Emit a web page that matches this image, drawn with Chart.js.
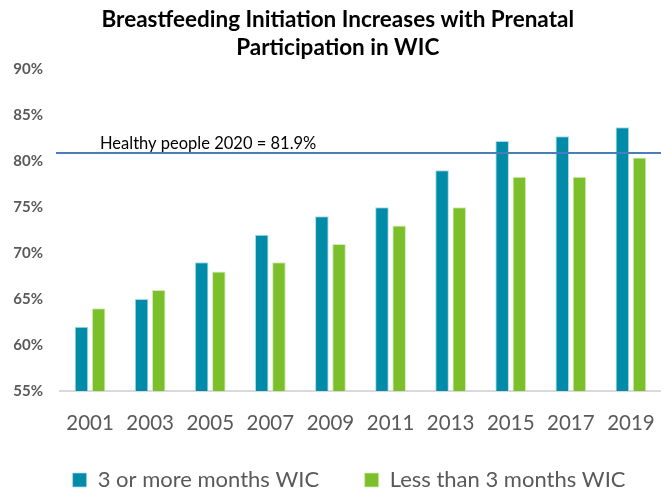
<!DOCTYPE html>
<html>
<head>
<meta charset="utf-8">
<script src="https://cdn.jsdelivr.net/npm/chart.js@4.4.1/dist/chart.umd.min.js"></script>
<style>
  html, body { margin: 0; padding: 0; background: #fff; }
  #wrap { width: 661px; height: 491px; position: relative; }
</style>
</head>
<body>
<div id="wrap"><canvas id="wicChart"></canvas></div>
<script>
// —————— DATA ——————
const years = ['2001', '2003', '2005', '2007', '2009', '2011', '2013', '2015', '2017', '2019'];
const threePlusMonths = [62, 65, 69, 72, 74, 75, 79, 82.2, 82.7, 83.7];
const lessThanThree = [64, 66, 68, 69, 71, 73, 75, 78.3, 78.3, 80.4];
const yTicks = [55, 60, 65, 70, 75, 80, 85, 90];
const healthyPeopleLine = 80.9; // where the line sits in the picture
const healthyPeopleLabel = 'Healthy people 2020 = 81.9%';

const FONT = 'Lato, "Open Sans", sans-serif';

// draws the Healthy People target line across the plot
const targetLine = {
  id: 'targetLine',
  afterDatasetsDraw(chart) {
    const { ctx, chartArea, scales } = chart;
    const y = scales.y.getPixelForValue(healthyPeopleLine);
    ctx.save();
    ctx.strokeStyle = '#4a7ebb';
    ctx.lineWidth = 2;
    ctx.beginPath();
    ctx.moveTo(chartArea.left - 4, y);
    ctx.lineTo(chart.width, y);
    ctx.stroke();
    ctx.fillStyle = '#000';
    ctx.font = '16.5px ' + FONT;
    ctx.textBaseline = 'bottom';
    ctx.fillText(healthyPeopleLabel, 100, y - 1);
    ctx.restore();
  }
};

new Chart(document.getElementById('wicChart'), {
  type: 'bar',
  data: {
    labels: years,
    datasets: [
      {
        label: '3 or more months WIC',
        data: threePlusMonths,
        backgroundColor: '#008ba8',
        borderColor: '#a9dbe6',
        borderWidth: { top: 1, left: 1, right: 1, bottom: 0 },
        categoryPercentage: 0.572,
        barPercentage: 0.79
      },
      {
        label: 'Less than 3 months WIC',
        data: lessThanThree,
        backgroundColor: '#7bbf2a',
        borderColor: '#d3ebb6',
        borderWidth: { top: 1, left: 1, right: 1, bottom: 0 },
        categoryPercentage: 0.572,
        barPercentage: 0.79
      }
    ]
  },
  options: {
    responsive: true,
    maintainAspectRatio: false,
    animation: false,
    // plot runs a few px past the right edge, like the cropped original
    layout: { padding: { left: 10, right: -4.5, top: 0, bottom: -10 } },
    scales: {
      x: {
        afterFit: s => { s.height = 49; },
        // invisible tick length pushes labels down without side padding
        grid: { display: false, drawTicks: true, tickLength: 20 },
        border: { color: '#d9d9d9', width: 2 },
        ticks: {
          color: '#595959',
          padding: 0,
          font: { family: FONT, size: 20.5 }
        }
      },
      y: {
        min: 55,
        max: 90,
        afterFit: s => { s.width = 50; },
        afterBuildTicks: s => { s.ticks = yTicks.map(v => ({ value: v })); },
        grid: { display: false, drawTicks: false },
        border: { display: false },
        ticks: {
          color: '#595959',
          padding: 17,
          font: { family: FONT, size: 15, weight: 'bold' },
          callback: v => v + '%'
        }
      }
    },
    plugins: {
      title: {
        display: true,
        text: ['Breastfeeding Initiation Increases with Prenatal', 'Participation in WIC'],
        color: '#000',
        font: { family: FONT, size: 22.5, weight: 'bold', lineHeight: 1.25 },
        padding: { top: 6, bottom: 7 }
      },
      legend: {
        position: 'bottom',
        align: 'end',
        labels: {
          color: '#595959',
          boxWidth: 14,
          boxHeight: 14,
          padding: 29,
          font: { family: FONT, size: 22 },
          // wider gap between the entries, as in the original
          generateLabels: chart => {
            const items = Chart.defaults.plugins.legend.labels.generateLabels(chart);
            items[0].text += '\u2003';
            items[1].text += '\u2002';
            return items;
          }
        }
      },
      tooltip: { enabled: false }
    }
  },
  plugins: [targetLine]
});
</script>
</body>
</html>
